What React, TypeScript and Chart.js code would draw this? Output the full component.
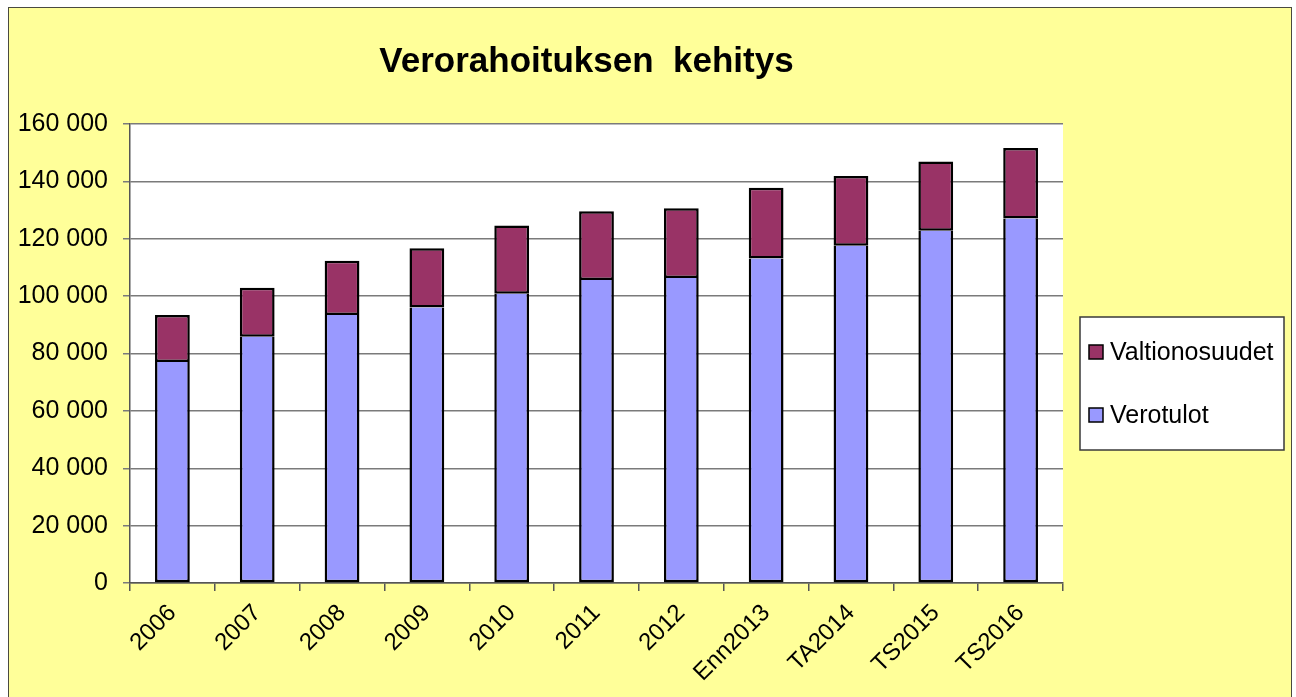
import React, { useEffect, useRef } from "react";
import { Chart, registerables } from "chart.js";

Chart.register(...registerables);

const TITLE = "Verorahoituksen  kehitys";
const categories = ["2006", "2007", "2008", "2009", "2010", "2011", "2012", "Enn2013", "TA2014", "TS2015", "TS2016"];
const verotulot = [77000, 85800, 93400, 96000, 100800, 105600, 106300, 113100, 117600, 122800, 127100];
const valtionosuudet = [16400, 17100, 18900, 20700, 23800, 24000, 24300, 24700, 24300, 24100, 24500];
const seriesNames = ["Verotulot", "Valtionosuudet"];
const yMin = 0;
const yMax = 160000;
const yStep = 20000;

const FONT = "'Liberation Sans', Arial, sans-serif";

const fmt = (v: number) => String(Math.round(v)).replace(/\B(?=(\d{3})+(?!\d))/g, " ");

const decorPlugin = {
  id: "decor",
  afterDraw(chart: any) {
    const ctx = chart.ctx;
    const ca = chart.chartArea;
    ctx.save();
    // title
    ctx.fillStyle = "#000";
    ctx.font = `bold 35px ${FONT}`;
    ctx.textAlign = "center";
    ctx.textBaseline = "alphabetic";
    ctx.fillText(TITLE, (ca.left + ca.right) / 2 - 10, 64);

    // legend box
    const bx = ca.right + 17;
    const by = 309;
    const bw = 204;
    const bh = 133;
    ctx.fillStyle = "#ffffff";
    ctx.fillRect(bx, by, bw, bh);
    ctx.strokeStyle = "#3a3a3a";
    ctx.lineWidth = 1.5;
    ctx.strokeRect(bx, by, bw, bh);

    const items = [...chart.data.datasets].reverse();
    items.forEach((ds: any, i: number) => {
      const cy = by + 35 + i * 63;
      ctx.fillStyle = ds.backgroundColor;
      ctx.fillRect(bx + 9, cy - 7, 14, 14);
      ctx.strokeStyle = "#000";
      ctx.lineWidth = 1.5;
      ctx.strokeRect(bx + 9, cy - 7, 14, 14);
      ctx.fillStyle = "#000";
      ctx.font = `25px ${FONT}`;
      ctx.textAlign = "left";
      ctx.textBaseline = "middle";
      ctx.fillText(ds.label, bx + 30, cy + 1);
    });
    ctx.restore();
  },
};

export default function App() {
  const ref = useRef<HTMLCanvasElement | null>(null);
  useEffect(() => {
    if (!ref.current) return;
    const chart = new Chart(ref.current, {
      type: "bar",
      data: {
        labels: categories,
        datasets: [
          {
            label: seriesNames[0],
            data: verotulot,
            backgroundColor: "#9999FF",
            borderColor: "#000",
            borderWidth: 2.5,
            borderSkipped: "top",
          },
          {
            label: seriesNames[1],
            data: valtionosuudet,
            backgroundColor: "#993366",
            borderColor: "#000",
            borderWidth: 2.5,
            borderSkipped: false,
          },
        ],
      },
      options: {
        responsive: false,
        animation: false,
        datasets: { bar: { barPercentage: 0.41, categoryPercentage: 1 } },
        layout: { padding: { left: 8, top: 116, right: 228, bottom: 0 } },
        plugins: {
          legend: { display: false },
          title: { display: false },
          tooltip: { enabled: false },
        },
        scales: {
          x: {
            stacked: true,
            grid: { offset: true, drawOnChartArea: false, drawTicks: true, tickLength: 8, color: "#555", lineWidth: 1.5 },
            border: { color: "#555", width: 1.5 },
            ticks: {
              color: "#000",
              font: { family: FONT, size: 24 },
              maxRotation: 45,
              minRotation: 45,
              padding: 8,
              autoSkip: false,
            },
            afterFit: (s: any) => {
              s.height = 115;
            },
          },
          y: {
            stacked: true,
            min: yMin,
            max: yMax,
            grid: { color: "#7a7a7a", lineWidth: 1.5, tickLength: 7 },
            border: { color: "#555", width: 1.5 },
            ticks: {
              stepSize: yStep,
              color: "#000",
              font: { family: FONT, size: 25 },
              padding: 15,
              callback: (v: any) => fmt(Number(v)),
            },
            afterFit: (s: any) => {
              s.width = 113;
            },
          },
        },
      },
      plugins: [
        {
          id: "plotBg",
          beforeDraw(chart: any) {
            const ca = chart.chartArea;
            const ctx = chart.ctx;
            ctx.save();
            ctx.fillStyle = "#ffffff";
            ctx.fillRect(ca.left, ca.top, ca.right - ca.left, ca.bottom - ca.top);
            ctx.restore();
          },
        },
        decorPlugin,
      ],
    });
    return () => chart.destroy();
  }, []);

  return (
    <div
      style={{
        position: "fixed",
        left: 8,
        top: 7,
        width: 1284,
        height: 692,
        boxSizing: "border-box",
        border: "1px solid #4a4a40",
        background: "#FFFF99",
        overflow: "hidden",
      }}
    >
      <canvas ref={ref} width={1282} height={690} style={{ display: "block", width: 1282, height: 690 }} />
    </div>
  );
}
